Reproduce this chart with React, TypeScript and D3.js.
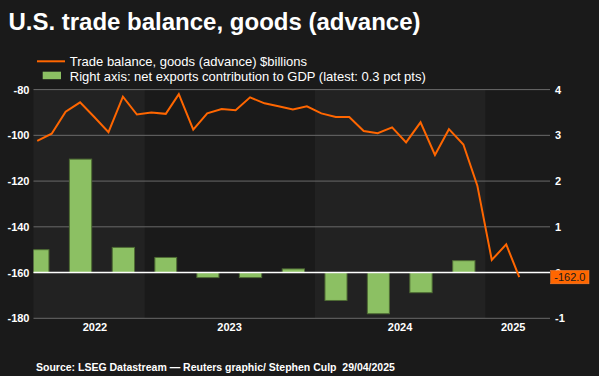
import React from "react";
import * as d3 from "d3";

const W = 599;
const H = 376;

const title = "U.S. trade balance, goods (advance)";
const legendLine = "Trade balance, goods (advance) $billions";
const legendBar = "Right axis: net exports contribution to GDP (latest: 0.3 pct pts)";
const source = "Source: LSEG Datastream \u2014 Reuters graphic/ Stephen Culp  29/04/2025";

// Monthly trade balance, goods ($bn), May 2022 .. Mar 2025
const months = d3.timeMonths(new Date(2022, 4, 1), new Date(2025, 3, 1)).map(
  (d) => new Date(d.getFullYear(), d.getMonth(), 15)
);
const balance = [
  -102.4, -99.3, -89.7, -85.6, -92.1, -98.6, -83.1, -90.9,
  -90.0, -90.6, -82.0, -97.5, -90.4, -88.5, -89.0, -83.4, -86.0, -87.3, -88.7, -87.3,
  -90.4, -92.0, -92.0, -98.1, -99.1, -96.5, -103.1, -94.3, -108.6, -97.3, -104.0, -122.0,
  -154.5, -147.7, -162.0,
];

// Quarterly net exports contribution to GDP (pct pts), Q2 2022 .. Q4 2024
const quarters = [
  "2022-04", "2022-07", "2022-10",
  "2023-01", "2023-04", "2023-07", "2023-10",
  "2024-01", "2024-04", "2024-07", "2024-10",
];
const contribution = [0.5, 2.48, 0.55, 0.33, -0.11, -0.11, 0.08, -0.61, -0.9, -0.44, 0.26];

const leftTicks = [-80, -100, -120, -140, -160, -180];
const rightTicks = [4, 3, 2, 1, 0, -1];
const years = [2022, 2023, 2024, 2025];
const yearLabelDates = ["2022-09-16", "2023-07-02", "2024-07-02", "2025-03-02"];
const lastLabel = "-162.0";

const parseQ = d3.timeParse("%Y-%m");
const parseD = d3.timeParse("%Y-%m-%d");

export default function App() {
  React.useEffect(() => {
    document.body.style.margin = "0";
    document.body.style.background = "#1a1a1a";
  }, []);

  const x = d3
    .scaleTime()
    .domain([new Date(2022, 4, 7), new Date(2025, 4, 20)])
    .range([33.5, 550]);
  const yL = d3.scaleLinear().domain([-180, -80]).range([318.3, 89.6]);
  const yR = d3.scaleLinear().domain([-1, 4]).range([318.3, 89.6]);
  const [x0, x1] = x.range();
  const [yBot, yTop] = yL.range();

  const line = d3
    .line<number>()
    .x((_, i) => x(months[i]))
    .y((v) => yL(v));

  const font = "'Liberation Sans', Arial, sans-serif";
  const lastY = yL(balance[balance.length - 1]);

  return (
    <svg width={W} height={H} style={{ position: "absolute", left: 0, top: 0, display: "block" }}>
      <defs>
        <clipPath id="plot">
          <rect x={x0} y={0} width={x1 - x0} height={H} />
        </clipPath>
      </defs>
      <rect x={0} y={0} width={W} height={H} fill="#1a1a1a" />
      {/* year bands */}
      <g clipPath="url(#plot)">
        {years.map((yr, i) => {
          const a = x(new Date(yr, 0, 1));
          const b = x(new Date(yr + 1, 0, 1));
          return i % 2 === 0 ? (
            <rect key={yr} x={a} y={yTop} width={b - a} height={yBot - yTop} fill="#222222" />
          ) : null;
        })}
      </g>
      {/* gridlines */}
      {leftTicks.map((t) => (
        <line key={t} x1={x0} x2={x1} y1={yL(t)} y2={yL(t)} stroke="#6a6a6a" strokeWidth={1} />
      ))}
      {/* bars */}
      <g clipPath="url(#plot)">
        {quarters.map((q, i) => {
          const s = parseQ(q)!;
          const e = d3.timeMonth.offset(s, 3);
          const qw = x(e) - x(s);
          const cx = (x(s) + x(e)) / 2;
          const bw = qw * 0.52;
          const v = contribution[i];
          const y0 = yR(0);
          const yv = yR(v);
          return (
            <rect
              key={q}
              x={cx - bw / 2}
              y={Math.min(y0, yv)}
              width={bw}
              height={Math.abs(yv - y0)}
              fill="#8cc063"
              stroke="#4e6b34"
              strokeWidth={1}
            />
          );
        })}
      </g>
      {/* zero line */}
      <line x1={x0} x2={x1} y1={yR(0)} y2={yR(0)} stroke="#ffffff" strokeWidth={1.5} />
      {/* trade balance line */}
      <path d={line(balance) || ""} fill="none" stroke="#ff6600" strokeWidth={2} strokeLinejoin="miter" />
      {/* left axis labels */}
      {leftTicks.map((t) => (
        <text key={t} x={29.5} y={yL(t)} dy="0.36em" textAnchor="end" fill="#ffffff" fontFamily={font} fontWeight="bold" fontSize={11}>
          {t}
        </text>
      ))}
      {/* right axis labels */}
      {rightTicks.map((t) => (
        <text key={t} x={555} y={yR(t)} dy="0.36em" textAnchor="start" fill="#ffffff" fontFamily={font} fontWeight="bold" fontSize={11}>
          {t}
        </text>
      ))}
      {/* year labels */}
      {years.map((yr, i) => (
        <text key={yr} x={x(parseD(yearLabelDates[i])!)} y={331} textAnchor="middle" fill="#ffffff" fontFamily={font} fontWeight="bold" fontSize={11}>
          {yr}
        </text>
      ))}
      {/* last value label */}
      <g>
        <rect x={550.7} y={lastY - 6.7} width={38.3} height={13.4} fill="#ff6600" stroke="#ff8a3d" strokeWidth={0.5} />
        <text x={569.85} y={lastY} dy="0.36em" textAnchor="middle" fill="#1a1a1a" fontFamily={font} fontSize={11}>
          {lastLabel}
        </text>
      </g>
      {/* title */}
      <text x={8.4} y={29.5} fill="#ffffff" fontFamily={font} fontWeight="bold" fontSize={24}>
        {title}
      </text>
      {/* legend */}
      <line x1={37} x2={65} y1={61.3} y2={61.3} stroke="#ff6600" strokeWidth={2} />
      <text x={69.8} y={66} fill="#ffffff" fontFamily={font} fontSize={13}>
        {legendLine}
      </text>
      <rect x={42.7} y={71.7} width={18.3} height={7.5} fill="#8cc063" />
      <text x={69.8} y={80.8} fill="#ffffff" fontFamily={font} fontSize={13}>
        {legendBar}
      </text>
      {/* source */}
      <text x={36} y={371} fill="#ffffff" fontFamily={font} fontWeight="bold" fontSize={10.5} style={{ whiteSpace: "pre" }}>
        {source}
      </text>
    </svg>
  );
}
